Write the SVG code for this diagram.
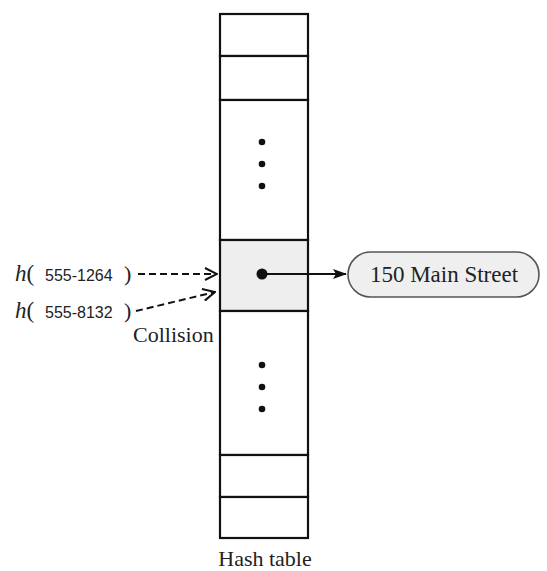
<svg xmlns="http://www.w3.org/2000/svg" width="547" height="571" viewBox="0 0 547 571">
<defs>
<style>
.cell{fill:#fff;stroke:#111;stroke-width:2.2}
.hit{fill:#eeeeee}
.dot{fill:#111}
.serif{font-family:"Liberation Serif",serif;fill:#222}
.sans{font-family:"Liberation Sans",sans-serif;fill:#222}
.dash{stroke:#111;stroke-width:2;stroke-dasharray:7,4;fill:none}
</style>
<marker id="open" viewBox="0 0 14 14" refX="13" refY="7" markerWidth="14" markerHeight="14" markerUnits="userSpaceOnUse" orient="auto">
<path d="M1,1 L13,7 L1,13" fill="none" stroke="#111" stroke-width="2"/>
</marker>
<marker id="solid" viewBox="0 0 14 10" refX="13" refY="5" markerWidth="14" markerHeight="10" markerUnits="userSpaceOnUse" orient="auto">
<path d="M0,0 L14,5 L0,10 L3,5 Z" fill="#111"/>
</marker>
</defs>
<rect width="547" height="571" fill="#fff"/>
<g id="hash-table">
<rect class="cell" x="220" y="14" width="88" height="42"/>
<rect class="cell" x="220" y="56" width="88" height="44"/>
<rect class="cell" x="220" y="100" width="88" height="140"/>
<rect class="cell hit" x="220" y="240" width="88" height="71"/>
<rect class="cell" x="220" y="311" width="88" height="144"/>
<rect class="cell" x="220" y="455" width="88" height="42"/>
<rect class="cell" x="220" y="497" width="88" height="41"/>
<circle class="dot" cx="262" cy="142" r="3.3"/>
<circle class="dot" cx="262" cy="164" r="3.3"/>
<circle class="dot" cx="262" cy="186" r="3.3"/>
<circle class="dot" cx="262" cy="365" r="3.3"/>
<circle class="dot" cx="262" cy="387" r="3.3"/>
<circle class="dot" cx="262" cy="409" r="3.3"/>
<circle class="dot" cx="262" cy="274" r="5.5"/>
<text class="serif" x="265" y="566" font-size="22" text-anchor="middle">Hash table</text>
</g>
<g id="address">
<rect x="348" y="252" width="191" height="45" rx="22.5" fill="#efefef" stroke="#555" stroke-width="1.6"/>
<text class="serif" x="444" y="282" font-size="23" text-anchor="middle">150 Main Street</text>
</g>
<g id="key1">
<text class="serif" x="15" y="281" font-size="23"><tspan font-style="italic">h</tspan>(</text>
<text class="sans" x="45" y="281" font-size="16">555-1264</text>
<text class="serif" x="124" y="281" font-size="22">)</text>
</g>
<g id="key2">
<text class="serif" x="15" y="318" font-size="23"><tspan font-style="italic">h</tspan>(</text>
<text class="sans" x="45" y="318" font-size="16">555-8132</text>
<text class="serif" x="124" y="318" font-size="22">)</text>
<text class="serif" x="133" y="342" font-size="22">Collision</text>
</g>
<g id="connectors">
<line x1="262" y1="274" x2="346" y2="274" stroke="#111" stroke-width="2" marker-end="url(#solid)"/>
<line class="dash" x1="138" y1="274" x2="217" y2="274" marker-end="url(#open)"/>
<line class="dash" x1="136" y1="311" x2="215" y2="292" marker-end="url(#open)"/>
</g>
</svg>
